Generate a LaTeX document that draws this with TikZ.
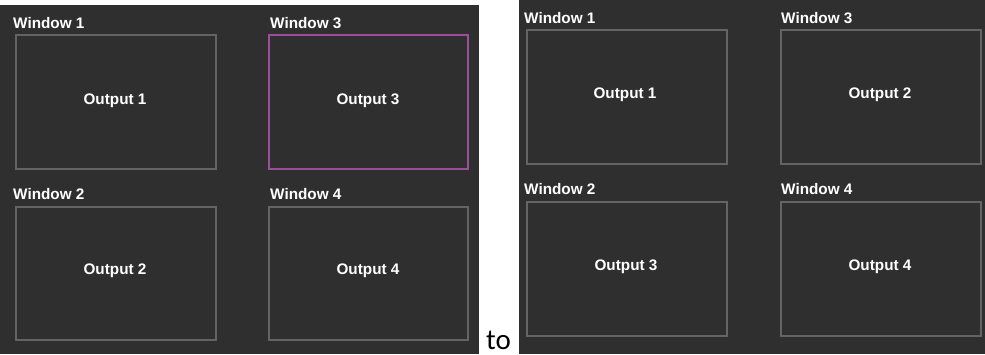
\documentclass[tikz,border=0pt]{standalone}
\usepackage{fontspec}
\setmainfont{Liberation Sans}
\newfontfamily\calib{Carlito}
\definecolor{panelbg}{HTML}{2F2F2F}
\definecolor{boxgray}{HTML}{646464}
\definecolor{selpurple}{HTML}{9A4F98}
\begin{document}
\begin{tikzpicture}[x=1pt,y=-1pt,
  panel/.style={fill=panelbg,draw=none},
  winbox/.style={draw=boxgray,line width=2pt,fill=none},
  selbox/.style={draw=selpurple,line width=2pt,fill=none},
  wlabel/.style={anchor=base west,inner sep=0pt,text=white,font=\fontsize{15.3}{18}\selectfont\bfseries},
  olabel/.style={anchor=base,inner sep=0pt,text=white,font=\fontsize{15.3}{18}\selectfont\bfseries}]
\useasboundingbox (0,0) rectangle (985,354);
\fill[white] (0,0) rectangle (985,354);
% panels
\fill[panel] (0,5) rectangle (479,354);
\fill[panel] (519,0) rectangle (985,354);
% left panel
\draw[winbox] (16,35) rectangle (216,169);
\node[wlabel] (lw1) at (13,28) {Window 1};
\node[olabel] (lo1) at (115,104) {Output 1};
\draw[selbox] (269,35) rectangle (468,169);
\node[wlabel] (lw3) at (270,28) {Window 3};
\node[olabel] (lo3) at (368,104) {Output 3};
\draw[winbox] (16,207) rectangle (216,340);
\node[wlabel] (lw2) at (13,199) {Window 2};
\node[olabel] (lo2) at (115,274) {Output 2};
\draw[winbox] (269,207) rectangle (468,340);
\node[wlabel] (lw4) at (270,199) {Window 4};
\node[olabel] (lo4) at (368,274) {Output 4};
% "to"
\node[anchor=base west,inner sep=0pt,font=\calib\fontsize{29}{32}\selectfont] (to) at (486,349) {to};
% right panel
\draw[winbox] (527,30) rectangle (727,164);
\node[wlabel] (rw1) at (524,23) {Window 1};
\node[olabel] (ro1) at (625,98) {Output 1};
\draw[winbox] (781,30) rectangle (981,164);
\node[wlabel] (rw3) at (781,23) {Window 3};
\node[olabel] (ro3) at (880,98) {Output 2};
\draw[winbox] (527,202) rectangle (727,336);
\node[wlabel] (rw2) at (524,194) {Window 2};
\node[olabel] (ro2) at (626,270) {Output 3};
\draw[winbox] (781,202) rectangle (981,336);
\node[wlabel] (rw4) at (781,194) {Window 4};
\node[olabel] (ro4) at (880,270) {Output 4};
\end{tikzpicture}
\end{document}
